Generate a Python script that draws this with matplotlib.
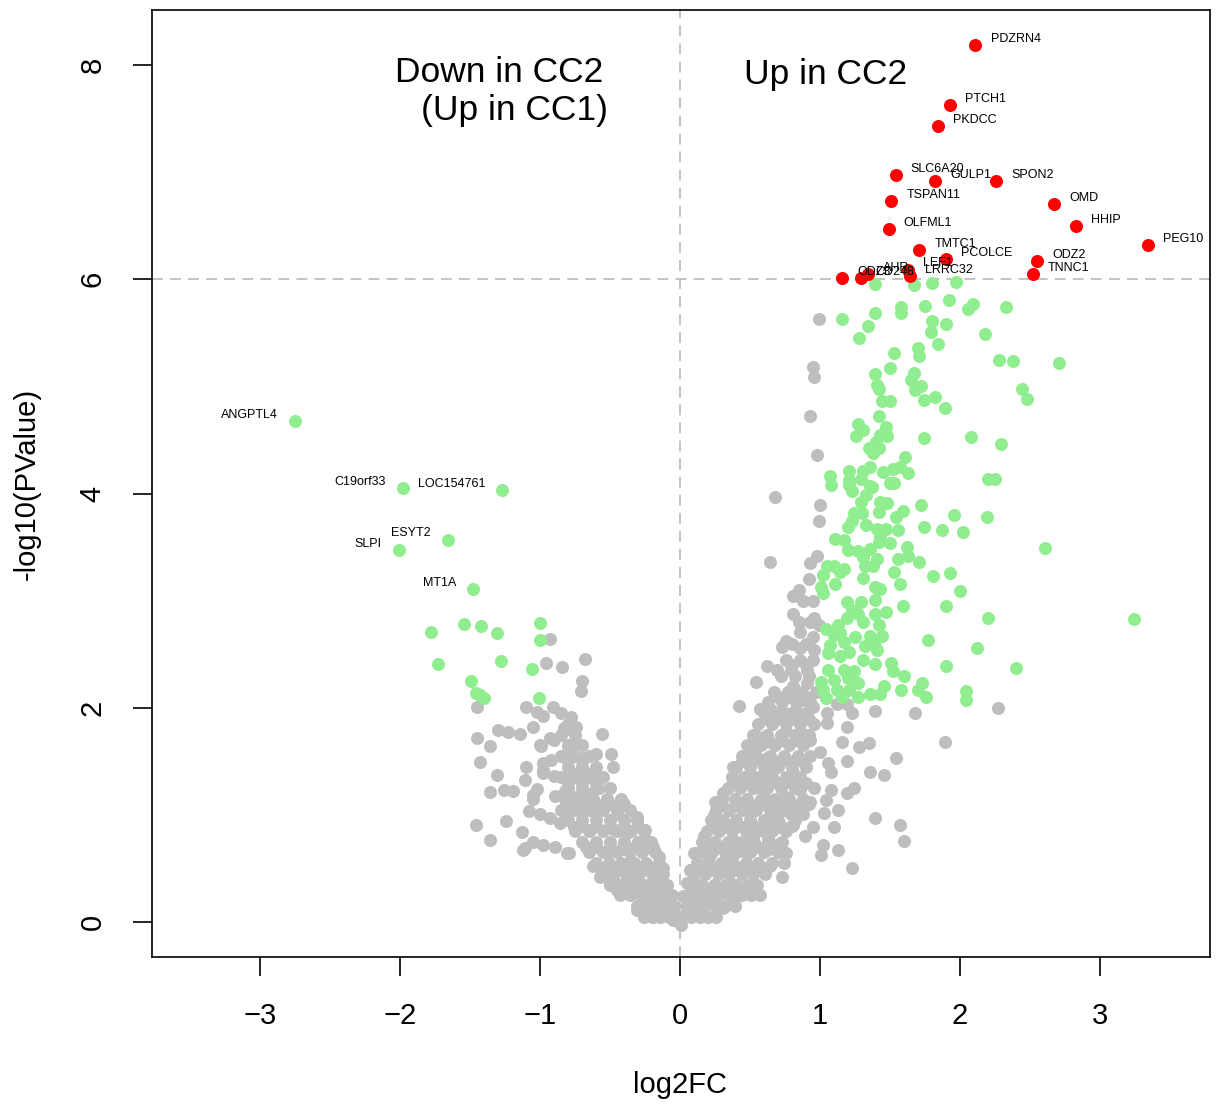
import numpy as np
import matplotlib
matplotlib.use("Agg")
import matplotlib.pyplot as plt

plt.rcParams['font.family'] = ['Liberation Sans', 'DejaVu Sans']

# genes passing both cutoffs (red, labelled)
red_genes = ["PDZRN4", "PTCH1", "PKDCC", "SLC6A20", "GULP1", "SPON2", "TSPAN11", "OMD",
             "HHIP", "OLFML1", "PEG10", "TMTC1", "PCOLCE", "ODZ2", "TNNC1", "LEF1",
             "LRRC32", "AHR", "CD248", "ODZ3"]
red_x = [2.11, 1.93, 1.84, 1.54, 1.82, 2.26, 1.51, 2.67,
         2.83, 1.49, 3.34, 1.71, 1.90, 2.55, 2.52, 1.63,
         1.64, 1.34, 1.29, 1.16]
red_y = [8.19, 7.63, 7.43, 6.97, 6.92, 6.92, 6.73, 6.70,
         6.50, 6.47, 6.32, 6.27, 6.19, 6.17, 6.05, 6.09,
         6.03, 6.05, 6.01, 6.01]

# labelled genes with log2FC < 0 (green)
down_genes = ["ANGPTL4", "C19orf33", "LOC154761", "ESYT2", "SLPI", "MT1A"]
down_x = [-2.75, -1.98, -1.27, -1.66, -2.01, -1.48]
down_y = [4.68, 4.05, 4.03, 3.57, 3.47, 3.11]

# other significant genes (green)
green_pts = [
    (-1.78, 2.71), (-1.54, 2.78), (-1.42, 2.76), (-1.31, 2.70), (-1.00, 2.79), (-1.00, 2.63),
    (-1.73, 2.41), (-1.28, 2.44), (-1.06, 2.36), (-1.49, 2.25), (-1.46, 2.14), (-1.43, 2.12),
    (-1.40, 2.09), (-1.01, 2.09),
    (1.39, 5.96), (1.67, 5.95), (1.80, 5.97), (1.97, 5.98), (1.16, 5.63), (1.39, 5.69),
    (1.34, 5.56), (1.28, 5.45), (1.58, 5.74), (1.58, 5.69), (1.75, 5.75), (1.92, 5.81),
    (2.09, 5.77), (2.06, 5.72), (2.33, 5.74), (1.80, 5.61), (1.79, 5.51), (1.90, 5.58),
    (2.18, 5.49), (1.84, 5.40), (1.70, 5.36), (1.71, 5.28), (1.53, 5.31), (1.50, 5.17),
    (1.39, 5.12), (2.28, 5.25), (2.38, 5.24), (1.67, 5.13), (1.65, 5.06), (1.72, 5.00),
    (1.68, 4.97), (1.41, 5.01), (1.42, 4.98), (1.44, 4.86), (1.50, 4.86), (1.74, 4.87),
    (1.82, 4.90), (1.89, 4.80), (2.44, 4.98), (2.48, 4.88), (2.71, 5.22), (1.42, 4.72),
    (1.27, 4.65), (1.31, 4.59), (1.26, 4.54), (1.47, 4.62), (1.43, 4.55), (1.48, 4.54),
    (1.40, 4.48), (1.74, 4.52), (2.08, 4.53), (2.29, 4.46), (1.35, 4.43), (1.42, 4.43),
    (1.38, 4.38), (1.61, 4.34), (1.07, 4.16), (1.21, 4.21), (1.21, 4.13), (1.36, 4.25),
    (1.31, 4.21), (1.45, 4.20), (1.52, 4.23), (1.57, 4.25), (1.63, 4.19), (1.53, 4.10),
    (1.29, 4.14), (1.36, 4.07), (2.20, 4.14), (2.25, 4.14),
    (1.08, 4.08), (1.21, 4.08), (1.23, 4.02), (1.37, 4.06), (1.50, 4.10), (1.33, 3.99),
    (1.29, 3.92), (1.43, 3.92), (1.48, 3.91), (1.72, 3.89), (1.96, 3.80), (2.19, 3.78),
    (1.24, 3.82), (1.30, 3.82), (1.42, 3.83), (1.54, 3.78), (1.59, 3.84), (1.23, 3.74),
    (1.20, 3.69), (1.33, 3.71), (1.41, 3.67), (1.47, 3.67), (1.56, 3.66), (1.74, 3.69),
    (1.87, 3.66), (2.02, 3.64), (2.61, 3.49), (1.11, 3.58), (1.17, 3.57), (1.43, 3.60),
    (1.42, 3.55), (1.50, 3.54), (1.36, 3.48), (1.62, 3.50), (1.20, 3.47), (1.27, 3.46),
    (1.63, 3.42), (1.56, 3.39), (1.41, 3.39), (1.71, 3.36), (1.31, 3.41), (1.05, 3.32),
    (1.10, 3.32), (1.17, 3.30), (1.32, 3.32), (1.38, 3.32), (1.02, 3.24), (1.14, 3.27),
    (1.53, 3.27), (1.81, 3.23), (1.93, 3.26), (1.11, 3.16), (1.31, 3.21), (1.57, 3.16),
    (1.01, 3.13), (1.02, 3.07), (1.39, 3.13), (1.43, 3.11), (2.00, 3.09), (1.19, 2.99),
    (1.29, 2.99), (1.39, 3.01), (1.23, 2.91), (1.27, 2.88), (1.39, 2.88), (1.47, 2.89),
    (1.59, 2.95), (1.90, 2.95), (2.20, 2.84), (3.24, 2.83), (1.19, 2.84), (1.31, 2.80),
    (1.04, 2.74), (1.13, 2.77), (1.42, 2.77), (1.10, 2.68), (1.14, 2.70), (1.25, 2.66),
    (1.36, 2.67), (1.44, 2.67), (1.39, 2.62), (1.77, 2.63), (1.07, 2.59), (1.17, 2.61),
    (1.32, 2.58), (1.41, 2.54), (2.12, 2.56), (1.06, 2.51), (1.14, 2.48), (1.21, 2.52),
    (1.31, 2.45), (1.39, 2.41), (1.51, 2.42), (1.90, 2.39), (2.40, 2.37), (1.06, 2.35),
    (1.17, 2.35), (1.24, 2.34), (1.52, 2.34), (1.60, 2.30), (1.01, 2.24), (1.10, 2.26),
    (1.20, 2.28), (1.27, 2.23), (1.73, 2.23), (1.02, 2.17), (1.12, 2.17), (1.21, 2.17),
    (1.36, 2.13), (1.43, 2.13), (1.58, 2.17), (1.70, 2.17), (1.76, 2.10), (2.04, 2.16),
    (2.04, 2.07), (1.04, 2.09), (1.16, 2.10), (1.27, 2.10), (1.46, 2.20),
]

# scattered non-significant genes (gray)
gray_pts = [
    (0.99, 5.63), (0.95, 5.18), (0.96, 5.09), (0.93, 4.72), (0.98, 4.36), (0.68, 3.97),
    (1.00, 3.89), (0.99, 3.74), (0.64, 3.36), (0.98, 3.42), (0.93, 3.35), (2.27, 2.00),
    (0.85, 3.10), (0.81, 3.04), (0.95, 3.00), (0.81, 2.88), (0.96, 2.84), (0.99, 2.77),
    (0.86, 2.71), (0.95, 2.66), (0.76, 2.62), (0.73, 2.57), (0.86, 2.56), (0.96, 2.54),
    (0.62, 2.39), (0.69, 2.35), (0.79, 2.35), (0.91, 2.35), (0.54, 2.24), (0.81, 2.20),
    (0.91, 2.23), (0.79, 2.10), (0.88, 2.07), (0.42, 2.02), (0.57, 1.99), (0.65, 1.98),
    (0.74, 1.95), (0.83, 1.98), (0.95, 2.01), (1.05, 1.95), (1.12, 2.04), (1.19, 2.04),
    (1.23, 1.95), (1.39, 1.97), (1.68, 1.95), (0.56, 1.73), (0.64, 1.68), (0.76, 1.78),
    (0.88, 1.76), (1.05, 1.86), (1.19, 1.82), (1.16, 1.68), (1.28, 1.63), (1.35, 1.67),
    (1.89, 1.68), (0.52, 1.58), (0.62, 1.53), (0.74, 1.54), (0.87, 1.51), (1.00, 1.59),
    (1.06, 1.48), (1.19, 1.50), (1.54, 1.53), (0.38, 1.45), (0.44, 1.50), (0.51, 1.36),
    (0.64, 1.39), (0.81, 1.39), (1.08, 1.40), (1.36, 1.40), (1.46, 1.37), (0.38, 1.33),
    (0.57, 1.26), (0.71, 1.29), (0.86, 1.23), (0.96, 1.25), (1.08, 1.23), (1.19, 1.20),
    (1.24, 1.25), (0.31, 1.20), (0.25, 1.12), (0.48, 1.14), (0.62, 1.14), (0.76, 1.17),
    (0.93, 1.12), (1.04, 1.14), (1.13, 1.05), (0.24, 1.00), (0.35, 1.05), (0.50, 1.01),
    (0.67, 1.00), (0.79, 1.01), (0.88, 1.01), (1.03, 1.02), (1.39, 0.97), (1.10, 0.89),
    (1.57, 0.91), (1.60, 0.76), (0.31, 0.89), (0.45, 0.89), (0.60, 0.86), (0.71, 0.89),
    (0.81, 0.91), (0.95, 0.89), (0.17, 0.80), (0.26, 0.72), (0.38, 0.77), (0.52, 0.77),
    (0.63, 0.78), (0.71, 0.73), (0.89, 0.80), (1.02, 0.72), (1.13, 0.67), (1.01, 0.63),
    (0.10, 0.64), (0.21, 0.61), (0.33, 0.63), (0.48, 0.64), (0.62, 0.67), (0.76, 0.64),
    (0.74, 0.55), (0.73, 0.42), (1.23, 0.50), (0.07, 0.49), (0.17, 0.52), (0.29, 0.47),
    (0.40, 0.50), (0.55, 0.49), (0.64, 0.52), (0.05, 0.36), (0.14, 0.35), (0.24, 0.33),
    (0.36, 0.36), (0.48, 0.31), (0.57, 0.25), (0.31, 0.13), (0.02, 0.24), (0.12, 0.21),
    (0.21, 0.21), (0.40, 0.24), (0.05, 0.08), (0.14, 0.08), (0.01, -0.03),
    (-0.93, 2.64), (-0.96, 2.42), (-0.84, 2.38), (-0.68, 2.46), (-0.70, 2.25), (-0.71, 2.16),
    (-1.45, 2.01), (-1.10, 2.01), (-1.02, 1.96), (-0.91, 2.01), (-0.98, 1.92), (-0.78, 1.91),
    (-0.83, 1.81), (-0.74, 1.82), (-1.30, 1.79), (-1.23, 1.77), (-1.14, 1.76), (-1.05, 1.82),
    (-0.56, 1.76), (-1.45, 1.72), (-1.36, 1.64), (-0.99, 1.64), (-0.90, 1.70), (-0.80, 1.64),
    (-0.74, 1.67), (-1.43, 1.49), (-1.10, 1.45), (-0.98, 1.48), (-0.92, 1.51), (-0.81, 1.53),
    (-0.69, 1.53), (-0.60, 1.57), (-0.49, 1.57), (-0.48, 1.45), (-1.31, 1.37), (-1.11, 1.33),
    (-0.98, 1.39), (-0.90, 1.36), (-0.77, 1.39), (-0.71, 1.33), (-0.63, 1.39), (-0.58, 1.25),
    (-1.36, 1.21), (-1.26, 1.23), (-1.19, 1.22), (-1.05, 1.19), (-0.89, 1.18), (-0.82, 1.22),
    (-0.74, 1.17), (-0.67, 1.20), (-0.52, 1.14), (-1.08, 1.04), (-1.00, 1.01), (-0.93, 0.97),
    (-0.81, 1.01), (-0.69, 1.05), (-0.60, 1.01), (-0.45, 1.01), (-0.31, 0.98), (-1.46, 0.91),
    (-1.24, 0.94), (-1.13, 0.84), (-0.86, 0.92), (-0.76, 0.89), (-0.64, 0.86), (-0.48, 0.87),
    (-0.38, 0.83), (-0.25, 0.86), (-1.36, 0.77), (-1.11, 0.69), (-1.05, 0.75), (-0.98, 0.72),
    (-0.89, 0.70), (-0.79, 0.64), (-0.67, 0.70), (-0.52, 0.64), (-0.38, 0.67), (-0.24, 0.77),
    (-0.19, 0.70), (-0.15, 0.61), (-0.62, 0.52), (-0.50, 0.52), (-0.37, 0.55), (-0.24, 0.52),
    (-0.12, 0.50), (-0.57, 0.42), (-0.50, 0.36), (-0.38, 0.42), (-0.29, 0.36), (-0.17, 0.39),
    (-0.31, 0.11), (-0.38, 0.27), (-0.26, 0.21), (-0.14, 0.17), (-0.10, 0.08), (-0.05, 0.02),
    (-0.19, 0.05), (-0.48, 0.39), (-1.02, 1.24), (-1.05, 1.15), (-1.12, 0.67), (-0.81, 0.64),
    (-0.98, 1.42), (-1.00, 1.65), (-0.93, 1.72), (-0.83, 1.79),
]

# dense core of the V (gray)
gray_core = [
    (0.02, 0.05), (0.08, 0.05), (0.14, 0.05), (0.20, 0.05), (0.26, 0.05),
    (0.04, 0.15), (0.11, 0.15), (0.18, 0.15), (0.25, 0.15), (0.32, 0.15), (0.39, 0.15),
    (0.06, 0.25), (0.13, 0.25), (0.20, 0.25), (0.28, 0.25), (0.36, 0.25), (0.44, 0.25), (0.51, 0.25),
    (0.08, 0.35), (0.16, 0.35), (0.24, 0.35), (0.32, 0.35), (0.40, 0.35), (0.48, 0.35), (0.55, 0.35),
    (0.10, 0.45), (0.18, 0.45), (0.27, 0.45), (0.35, 0.45), (0.44, 0.45), (0.52, 0.45), (0.61, 0.45),
    (0.12, 0.55), (0.20, 0.55), (0.29, 0.55), (0.38, 0.55), (0.47, 0.55), (0.56, 0.55), (0.66, 0.55),
    (0.14, 0.65), (0.23, 0.65), (0.32, 0.65), (0.41, 0.65), (0.50, 0.65), (0.60, 0.65), (0.70, 0.65),
    (0.16, 0.75), (0.25, 0.75), (0.34, 0.75), (0.44, 0.75), (0.53, 0.75), (0.63, 0.75), (0.73, 0.75),
    (0.19, 0.85), (0.28, 0.85), (0.37, 0.85), (0.47, 0.85), (0.56, 0.85), (0.66, 0.85), (0.76, 0.85),
    (0.22, 0.95), (0.31, 0.95), (0.40, 0.95), (0.50, 0.95), (0.60, 0.95), (0.70, 0.95), (0.82, 0.95),
    (0.26, 1.05), (0.35, 1.05), (0.44, 1.05), (0.54, 1.05), (0.64, 1.05), (0.74, 1.05), (0.86, 1.05),
    (0.30, 1.15), (0.39, 1.15), (0.48, 1.15), (0.58, 1.15), (0.68, 1.15), (0.78, 1.15), (0.88, 1.15),
    (0.34, 1.25), (0.43, 1.25), (0.52, 1.25), (0.62, 1.25), (0.72, 1.25), (0.82, 1.25),
    (0.37, 1.35), (0.46, 1.35), (0.56, 1.35), (0.66, 1.35), (0.76, 1.35), (0.86, 1.35),
    (0.40, 1.45), (0.50, 1.45), (0.60, 1.45), (0.70, 1.45), (0.80, 1.45), (0.90, 1.45),
    (0.44, 1.55), (0.54, 1.55), (0.64, 1.55), (0.74, 1.55), (0.84, 1.55), (0.93, 1.55),
    (0.48, 1.65), (0.58, 1.65), (0.68, 1.65), (0.78, 1.65), (0.88, 1.65),
    (0.52, 1.75), (0.62, 1.75), (0.72, 1.75), (0.82, 1.75), (0.92, 1.75),
    (0.56, 1.85), (0.66, 1.85), (0.76, 1.85), (0.86, 1.85), (0.96, 1.85),
    (0.60, 1.95), (0.70, 1.95), (0.80, 1.95), (0.90, 1.95),
    (0.63, 2.05), (0.73, 2.05), (0.83, 2.05), (0.93, 2.05),
    (0.67, 2.15), (0.77, 2.15), (0.87, 2.15), (0.97, 2.15),
    (0.72, 2.30), (0.82, 2.30), (0.92, 2.30), (0.76, 2.45), (0.86, 2.45), (0.95, 2.45),
    (0.80, 2.60), (0.90, 2.60), (0.85, 2.80), (0.93, 2.80), (0.88, 3.00), (0.92, 3.20),
    (-0.02, 0.05), (-0.08, 0.05), (-0.14, 0.05), (-0.20, 0.05), (-0.26, 0.05),
    (-0.04, 0.15), (-0.10, 0.15), (-0.17, 0.15), (-0.24, 0.15), (-0.31, 0.15),
    (-0.06, 0.25), (-0.13, 0.25), (-0.20, 0.25), (-0.28, 0.25), (-0.36, 0.25), (-0.43, 0.25),
    (-0.09, 0.35), (-0.17, 0.35), (-0.25, 0.35), (-0.33, 0.35), (-0.42, 0.35), (-0.50, 0.35),
    (-0.12, 0.45), (-0.20, 0.45), (-0.29, 0.45), (-0.38, 0.45), (-0.47, 0.45), (-0.56, 0.45),
    (-0.15, 0.55), (-0.24, 0.55), (-0.33, 0.55), (-0.42, 0.55), (-0.51, 0.55), (-0.60, 0.55),
    (-0.18, 0.65), (-0.27, 0.65), (-0.36, 0.65), (-0.45, 0.65), (-0.55, 0.65), (-0.65, 0.65),
    (-0.21, 0.75), (-0.30, 0.75), (-0.40, 0.75), (-0.50, 0.75), (-0.60, 0.75), (-0.70, 0.75),
    (-0.26, 0.85), (-0.35, 0.85), (-0.45, 0.85), (-0.55, 0.85), (-0.65, 0.85), (-0.75, 0.85),
    (-0.31, 0.95), (-0.40, 0.95), (-0.50, 0.95), (-0.60, 0.95), (-0.70, 0.95), (-0.80, 0.95),
    (-0.36, 1.05), (-0.45, 1.05), (-0.55, 1.05), (-0.65, 1.05), (-0.75, 1.05), (-0.85, 1.05),
    (-0.42, 1.15), (-0.52, 1.15), (-0.62, 1.15), (-0.72, 1.15), (-0.82, 1.15),
    (-0.50, 1.25), (-0.60, 1.25), (-0.70, 1.25), (-0.80, 1.25),
    (-0.55, 1.35), (-0.65, 1.35), (-0.75, 1.35), (-0.85, 1.35),
    (-0.60, 1.45), (-0.70, 1.45), (-0.80, 1.45), (-0.65, 1.55), (-0.75, 1.55), (-0.85, 1.55),
    (-0.70, 1.65), (-0.80, 1.65), (-0.75, 1.75), (-0.85, 1.75), (-0.80, 1.85), (-0.85, 1.95),
]

# filler rows between the core rows (gray)
gray_core2 = [
    (0.11, 0.30), (0.20, 0.30), (0.29, 0.30), (0.38, 0.30), (0.47, 0.30),
    (0.15, 0.50), (0.24, 0.50), (0.33, 0.50), (0.42, 0.50), (0.51, 0.50), (0.60, 0.50),
    (0.19, 0.70), (0.28, 0.70), (0.37, 0.70), (0.46, 0.70), (0.55, 0.70), (0.65, 0.70),
    (0.24, 0.90), (0.33, 0.90), (0.42, 0.90), (0.52, 0.90), (0.62, 0.90), (0.72, 0.90), (0.80, 0.90),
    (0.30, 1.10), (0.40, 1.10), (0.50, 1.10), (0.60, 1.10), (0.70, 1.10), (0.80, 1.10), (0.92, 1.10),
    (0.40, 1.30), (0.50, 1.30), (0.60, 1.30), (0.70, 1.30), (0.80, 1.30), (0.90, 1.30),
    (0.47, 1.50), (0.57, 1.50), (0.67, 1.50), (0.77, 1.50), (0.87, 1.50),
    (0.53, 1.70), (0.63, 1.70), (0.73, 1.70), (0.83, 1.70), (0.93, 1.70),
    (0.62, 1.90), (0.72, 1.90), (0.82, 1.90), (0.92, 1.90),
    (0.70, 2.10), (0.80, 2.10), (0.90, 2.10), (0.80, 2.40), (0.90, 2.40),
    (-0.10, 0.30), (-0.19, 0.30), (-0.28, 0.30), (-0.37, 0.30), (-0.45, 0.30),
    (-0.16, 0.50), (-0.25, 0.50), (-0.34, 0.50), (-0.43, 0.50), (-0.52, 0.50),
    (-0.23, 0.70), (-0.32, 0.70), (-0.41, 0.70), (-0.50, 0.70), (-0.60, 0.70),
    (-0.30, 0.90), (-0.40, 0.90), (-0.50, 0.90), (-0.60, 0.90), (-0.70, 0.90),
    (-0.40, 1.10), (-0.50, 1.10), (-0.60, 1.10), (-0.70, 1.10), (-0.80, 1.10),
    (-0.60, 1.30), (-0.70, 1.30), (-0.80, 1.30), (-0.70, 1.50), (-0.80, 1.50),
]

fig = plt.figure(figsize=(12.17, 11.10), dpi=100)
ax = fig.add_axes([0.1249, 0.1378, 0.8693, 0.8532])

dot = 88
gx, gy = zip(*(gray_pts + gray_core + gray_core2))
ax.scatter(gx, gy, s=dot, c='#BEBEBE', linewidths=0, zorder=2)
lx, ly = zip(*green_pts)
ax.scatter(lx, ly, s=dot, c='#90EE90', linewidths=0, zorder=3)
ax.scatter(down_x, down_y, s=dot, c='#90EE90', linewidths=0, zorder=3)
ax.scatter(red_x, red_y, s=dot, c='red', linewidths=0, zorder=4)

ax.axvline(0, color='#BEBEBE', lw=1.3, dashes=(6, 4), zorder=1)
ax.axhline(6, color='#BEBEBE', lw=1.3, dashes=(6, 4), zorder=1)

for name, x, y in zip(red_genes, red_x, red_y):
    ax.annotate(name, (x, y), xytext=(11, 4.5), textcoords='offset points',
                ha='left', va='center', fontsize=9, zorder=5)
for name, x, y in zip(down_genes, down_x, down_y):
    ax.annotate(name, (x, y), xytext=(-12, 4.5), textcoords='offset points',
                ha='right', va='center', fontsize=9, zorder=5)

ax.text(-1.29, 7.84, "Down in CC2", ha='center', va='baseline', fontsize=25.5)
ax.text(-1.18, 7.49, "(Up in CC1)", ha='center', va='baseline', fontsize=25.5)
ax.text(1.04, 7.82, "Up in CC2", ha='center', va='baseline', fontsize=25.5)

ax.set_xlim(-3.771, 3.786)
ax.set_ylim(-0.327, 8.515)
ax.set_xticks([-3, -2, -1, 0, 1, 2, 3])
ax.set_yticks([0, 2, 4, 6, 8])
ax.tick_params(axis='both', length=13.5, width=1.2, labelsize=21, pad=19, direction='out')
for lab in ax.get_yticklabels():
    lab.set_rotation(90)
    lab.set_va('center')
for sp in ax.spines.values():
    sp.set_linewidth(1.2)

fig.text(0.559, 1 - 1085 / 1110, "log2FC", ha='center', va='center', fontsize=21)
fig.text(27 / 1217, 1 - 484 / 1110, "-log10(PValue)", ha='center', va='center',
         rotation=90, fontsize=21)

fig.savefig("out.png", dpi=100)
